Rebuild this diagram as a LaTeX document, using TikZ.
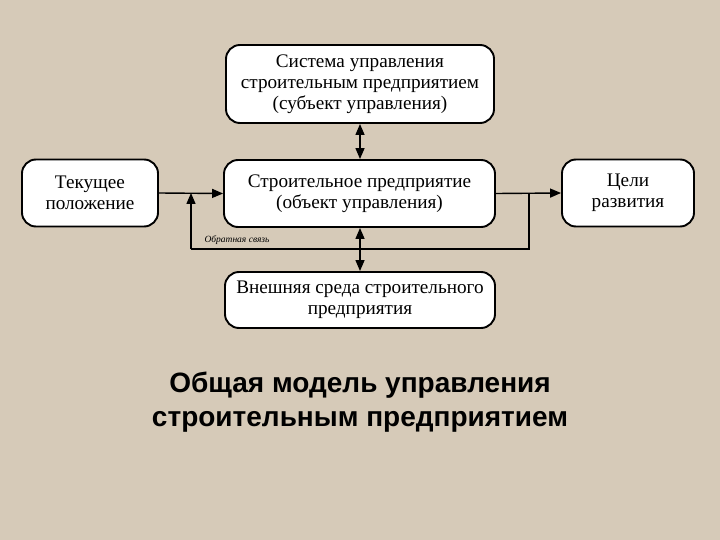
\documentclass[tikz,border=0pt]{standalone}
\usepackage{fontspec}
\setmainfont{Liberation Serif}
\newfontfamily\titlefont{Liberation Sans}
\usetikzlibrary{arrows.meta}
\definecolor{bgc}{RGB}{214,202,184}
\tikzset{
  box/.style={draw=black, line width=1.9pt, fill=white, rounded corners=14pt, align=center,
    font=\fontsize{19.2}{21}\selectfont, inner sep=0pt},
  conn/.style={line width=1.4pt, -{Triangle[length=11pt,width=9pt]}},
  biconn/.style={line width=1.4pt, {Triangle[length=11pt,width=9pt]}-{Triangle[length=11pt,width=9pt]}},
  fbline/.style={line width=1.4pt},
}
\begin{document}
\begin{tikzpicture}[x=1pt,y=-1pt]
\fill[bgc] (0,0) rectangle (720,540);
\useasboundingbox (0,0) rectangle (720,540);
\node[box, minimum width=268pt, minimum height=78pt] (sys) at (360,84) {Система управления\\строительным предприятием\\(субъект управления)};
\node[box, minimum width=271pt, minimum height=67pt] (ent) at (359.5,193.5) {Строительное предприятие\\(объект управления)};
\node[box, minimum width=136pt, minimum height=67pt] (cur) at (90,193) {Текущее\\положение};
\node[box, minimum width=132pt, minimum height=67pt] (goal) at (628,193) {Цели\\развития};
\node[box, minimum width=270pt, minimum height=56pt] (env) at (360,300) {Внешняя среда строительного\\предприятия};
\coordinate (fr) at (529,193);
\coordinate (fbr) at (529,249);
\coordinate (fbl) at (191,249);
\coordinate (fl) at (191,193);
\draw[conn] (cur.east) -- (ent.west);
\draw[conn] (ent.east) -- (goal.west);
\draw[fbline] (fr) -- (fbr) -- (fbl);
\draw[conn] (fbl) -- (fl);
\draw[biconn] (sys.south -| 360,0) -- (ent.north -| 360,0);
\draw[biconn] (ent.south -| 360,0) -- (env.north -| 360,0);
\node[font=\itshape\fontsize{9.5}{10}\selectfont, anchor=west] (fbtext) at (201,240) {Обратная связь};
\node[font=\titlefont\bfseries\fontsize{28}{34}\selectfont, align=center, text=black] (title) at (360,402) {Общая модель управления\\строительным предприятием};
\end{tikzpicture}
\end{document}
